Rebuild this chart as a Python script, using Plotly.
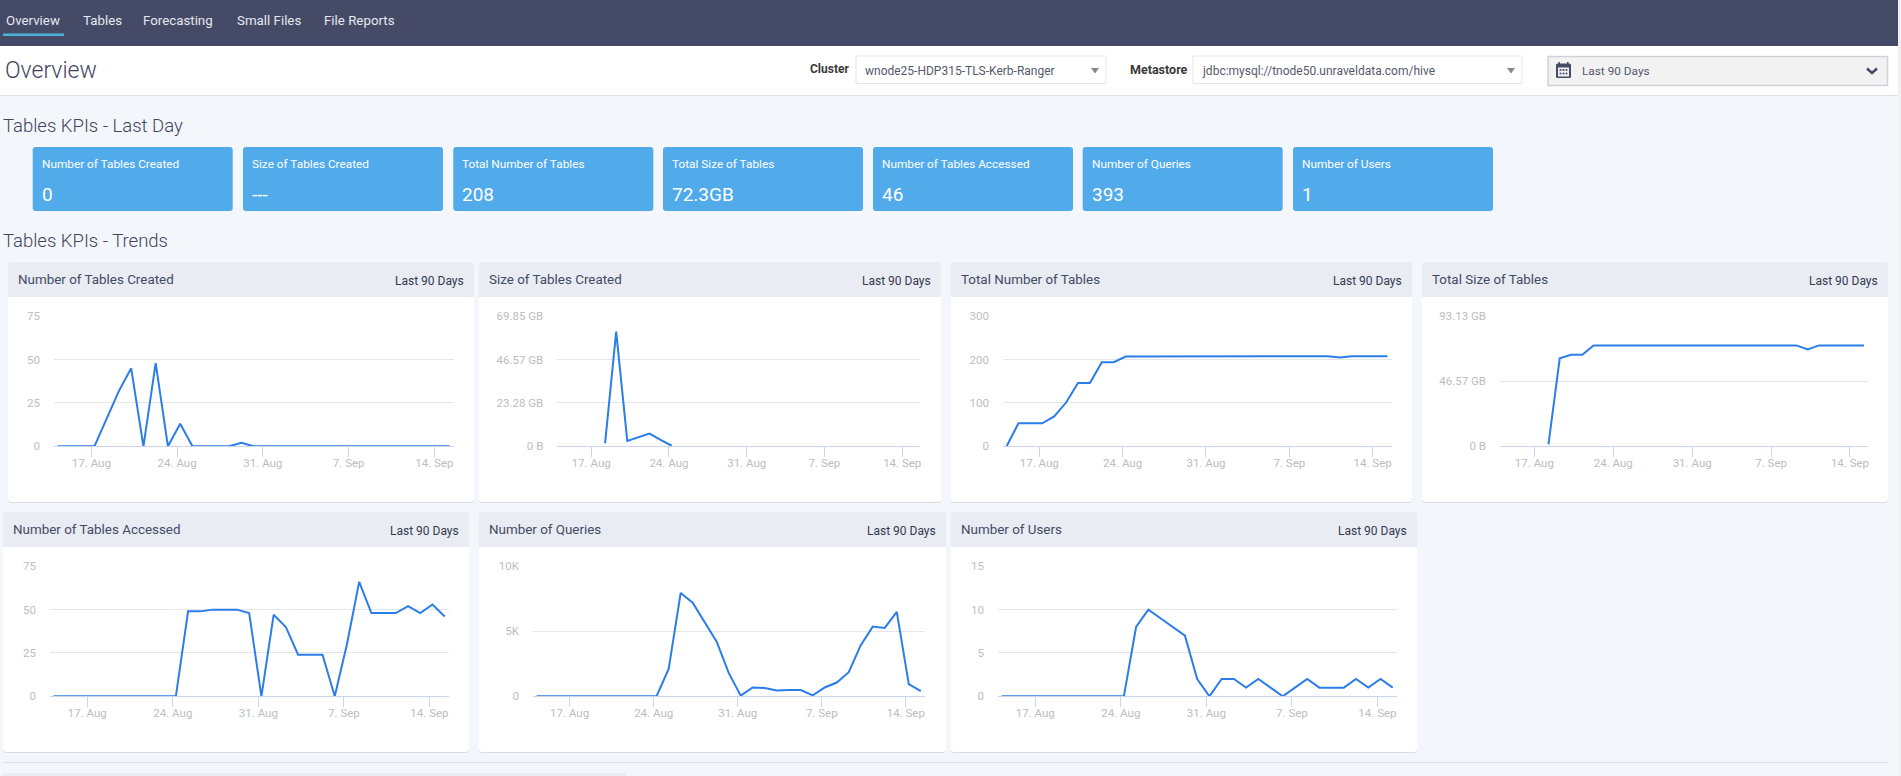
import pandas as pd
import plotly.graph_objects as go

W = 1901
H = 776

# one sample per day, shortly after midnight server time
days = pd.date_range("2020-08-14 06:00", "2020-09-15 06:00", freq="D")

tick_dates = ["2020-08-17", "2020-08-24", "2020-08-31", "2020-09-07", "2020-09-14"]
tick_labels = ["17. Aug", "24. Aug", "31. Aug", "7. Sep", "14. Sep"]

tables_created = [0, 0, 0, 0, 16, 32, 45, 0, 48, 0, 13, 0, 0, 0, 0, 2, 0, 0,
                  0, 0, 0, 0, 0, 0, 0, 0, 0, 0, 0, 0, 0, 0, 0]
size_created = [None, None, None, None, 1.6, 61.6, 2.9, 4.8, 6.8, 3.4, 0.3, None, None, None, None, None, None, None,
                None, None, None, None, None, None, None, None, None, None, None, None, None, None, None]
total_tables = [0, 53, 53, 53, 69, 101, 146, 146, 194, 194, 207, 207, 207, 207, 207, 208, 208, 208,
                208, 208, 208, 208, 208, 208, 208, 208, 208, 208, 205, 208, 208, 208, 208]
total_size = [None, None, None, None, 1.4, 63, 65.6, 65.6, 72.3, 72.3, 72.3, 72.3, 72.3, 72.3, 72.3, 72.3, 72.3, 72.3,
              72.3, 72.3, 72.3, 72.3, 72.3, 72.3, 72.3, 72.3, 72.3, 69.4, 72.3, 72.3, 72.3, 72.3, 72.3]
tables_accessed = [0, 0, 0, 0, 0, 0, 0, 0, 0, 0, 0, 49, 49, 50, 50, 50, 48, 0,
                   47, 40, 24, 24, 24, 0, 30, 66, 48, 48, 48, 52, 48, 53, 46]
queries = [0, 0, 0, 0, 0, 0, 0, 0, 0, 0, 30, 2100, 7950, 7200, 5750, 4200, 1800, 50,
           680, 640, 440, 490, 480, 70, 680, 1060, 1850, 3930, 5360, 5260, 6500, 940, 393]
users = [0, 0, 0, 0, 0, 0, 0, 0, 0, 0, 0, 8, 10, 9, 8, 7, 2, 0,
         2, 2, 1, 2, 1, 0, 1, 2, 1, 1, 1, 2, 1, 2, 1]

kpi_names = ["Number of Tables Created", "Size of Tables Created", "Total Number of Tables", "Total Size of Tables",
             "Number of Tables Accessed", "Number of Queries", "Number of Users"]
kpi_values = ["0", "---", "208", "72.3GB", "46", "393", "1"]
nav_items = ["Overview", "Tables", "Forecasting", "Small Files", "File Reports"]

FONT = "Roboto"
DARK = "#3f4560"
NAVY = "#454a66"
LINE = "#2b7de9"
HEADER = "#e9ecf3"

# card left/right, plot left/right, series, y ticks
panels = [
    ("Number of Tables Created", 8, 474, 54, 454, 0, tables_created, [0, 25, 50, 75], ["0", "25", "50", "75"]),
    ("Size of Tables Created", 479, 941, 557.3, 920, 0, size_created, [0, 23.28, 46.57, 69.85],
     ["0 B", "23.28 GB", "46.57 GB", "69.85 GB"]),
    ("Total Number of Tables", 951, 1412, 1003, 1391.7, 0, total_tables, [0, 100, 200, 300], ["0", "100", "200", "300"]),
    ("Total Size of Tables", 1422, 1888, 1500, 1868, 0, total_size, [0, 46.57, 93.13], ["0 B", "46.57 GB", "93.13 GB"]),
    ("Number of Tables Accessed", 3, 469, 50, 449, 1, tables_accessed, [0, 25, 50, 75], ["0", "25", "50", "75"]),
    ("Number of Queries", 479, 946, 533, 925, 1, queries, [0, 5000, 10000], ["0", "5K", "10K"]),
    ("Number of Users", 951, 1417, 998, 1397, 1, users, [0, 5, 10, 15], ["0", "5", "10", "15"]),
]
rows = [
    dict(top=262, head=297, grid=316.3, base=446.3, bottom=502),
    dict(top=512, head=547, grid=566.3, base=696.3, bottom=752),
]


def px(x):
    return x / W


def py(y):
    return 1 - y / H


def rect(x0, y0, x1, y1, color, border=None, bw=1):
    return dict(type="rect", xref="paper", yref="paper", x0=px(x0), x1=px(x1), y0=py(y1), y1=py(y0),
                fillcolor=color, line=dict(color=border or color, width=bw if border else 0), layer="below")


def path(points, color=None, line=None, bw=0, close=True):
    d = "M " + " L ".join(f"{px(x):.6f},{py(y):.6f}" for x, y in points)
    if close:
        d += " Z"
    return dict(type="path", xref="paper", yref="paper", path=d, fillcolor=color or "rgba(0,0,0,0)",
                line=dict(color=line or "rgba(0,0,0,0)", width=bw), layer="below")


def rounded(x0, y0, x1, y1, r, color, top=True, bottom=True):
    rt = r if top else 0
    rb = r if bottom else 0
    d = (f"M {px(x0 + rt)},{py(y0)} L {px(x1 - rt)},{py(y0)} Q {px(x1)},{py(y0)} {px(x1)},{py(y0 + rt)} "
         f"L {px(x1)},{py(y1 - rb)} Q {px(x1)},{py(y1)} {px(x1 - rb)},{py(y1)} "
         f"L {px(x0 + rb)},{py(y1)} Q {px(x0)},{py(y1)} {px(x0)},{py(y1 - rb)} "
         f"L {px(x0)},{py(y0 + rt)} Q {px(x0)},{py(y0)} {px(x0 + rt)},{py(y0)} Z")
    return dict(type="path", xref="paper", yref="paper", path=d, fillcolor=color, line=dict(width=0), layer="below")


def label(x, y, text, size, color=DARK, anchor="left", weight=400):
    return dict(x=px(x), y=py(y), xref="paper", yref="paper", text=text, showarrow=False, xanchor=anchor,
                yanchor="middle", align=anchor, borderpad=0, borderwidth=0,
                font=dict(family=FONT, size=size, color=color, weight=weight))


shapes = []
notes = []

# page chrome
shapes.append(rect(0, 0, 1898, 46, NAVY))
shapes.append(rect(1898, 0, W, H, "#f0f0f3"))
shapes.append(rect(0, 46, 1898, 95, "#ffffff"))
shapes.append(rect(0, 95, 1898, 96, "#dfe2ea"))
shapes.append(rect(3, 33.5, 64, 36, "#4db3d8"))
for name, x in zip(nav_items, [6, 82.5, 143, 237, 324]):
    notes.append(label(x, 20.7, name, 13.3, "#e6e8f0"))
notes.append(label(5, 70, "Overview", 23, DARK, weight=300))

notes.append(label(810, 69, "Cluster", 12, "#3a3a3a", weight=700))
shapes.append(rect(856, 56, 1106, 83.5, "#ffffff", "#e2e5ea"))
notes.append(label(865, 71, "wnode25-HDP315-TLS-Kerb-Ranger", 12, "#555a6a"))
shapes.append(path([(1091, 68), (1099, 68), (1095, 73.5)], "#888888"))
notes.append(label(1130, 69, "Metastore", 12.5, "#3a3a3a", weight=700))
shapes.append(rect(1193, 56, 1522, 83.5, "#ffffff", "#e2e5ea"))
notes.append(label(1201.5, 71, "jdbc:mysql://tnode50.unraveldata.com/hive", 12, "#555a6a"))
shapes.append(path([(1507, 68), (1515, 68), (1511, 73.5)], "#888888"))

shapes.append(rect(1548, 56.5, 1887.5, 85.5, "#f2f2f3", "#cfd2d8", 1.5))
shapes.append(rounded(1556, 63.5, 1571, 78, 1.5, NAVY))
shapes.append(rect(1558.5, 62, 1560, 65, NAVY))
shapes.append(rect(1567, 62, 1568.5, 65, NAVY))
shapes.append(rect(1558, 67.5, 1569, 76.5, "#f2f2f3"))
for cx in [1560.5, 1563.5, 1566.5]:
    for cy in [70, 73.5]:
        shapes.append(rect(cx - 0.9, cy - 0.9, cx + 0.9, cy + 0.9, NAVY))
notes.append(label(1582, 71, "Last 90 Days", 11.8, "#555a6a"))
shapes.append(path([(1867, 68.5), (1872, 73), (1877, 68.5)], None, NAVY, 2.5, close=False))

notes.append(label(3, 126.2, "Tables KPIs - Last Day", 18.5, DARK, weight=300))
notes.append(label(3, 240.5, "Tables KPIs - Trends", 18.5, DARK, weight=300))

# kpi tiles
kpi_left = [32.7, 243, 453.3, 663, 873, 1082.7, 1293]
for x, name, val in zip(kpi_left, kpi_names, kpi_values):
    shapes.append(rounded(x, 147, x + 200, 211, 3, "#51abeb"))
    notes.append(label(x + 8.8, 164, name, 11.8, "#ffffff"))
    notes.append(label(x + 8.8, 194, val, 19, "#ffffff"))

# bottom rule and cut-off next section
shapes.append(rect(3, 762, 1888, 763, "#dcdfe4"))
shapes.append(rect(3, 773, 626, 776, HEADER))

layout_axes = {}
fig = go.Figure()

for i, (title, card_l, card_r, plot_l, plot_r, row, vals, yt, yl) in enumerate(panels, start=1):
    r = rows[row]
    shapes.append(rounded(card_l, r["top"] + 1, card_r, r["bottom"] + 1, 3, "#d8dbe0"))
    shapes.append(rounded(card_l, r["top"], card_r, r["bottom"], 3, "#ffffff"))
    shapes.append(rounded(card_l, r["top"], card_r, r["head"], 3, HEADER, bottom=False))
    notes.append(label(card_l + 10.3, (r["top"] + r["head"]) / 2 - 0.3, title, 13.4, "#434a63"))
    notes.append(label(card_r - 10, (r["top"] + r["head"]) / 2 + 1, "Last 90 Days", 12, "#333a50", anchor="right"))

    fig.add_trace(go.Scatter(x=days, y=vals, mode="lines", line=dict(color=LINE, width=2), cliponaxis=False,
                             hoverinfo="skip", showlegend=False, connectgaps=False,
                             xaxis=f"x{i}", yaxis=f"y{i}"))
    layout_axes[f"xaxis{i}"] = dict(
        domain=[px(plot_l), px(plot_r)], anchor=f"y{i}",
        range=["2020-08-13 22:48", "2020-09-15 14:24"], type="date",
        tickmode="array", tickvals=tick_dates, ticktext=tick_labels,
        ticks="outside", ticklen=10, tickwidth=1, tickcolor="#ccd6eb", ticklabelstandoff=-4,
        showline=True, linecolor="#ccd6eb", linewidth=1, showgrid=False, zeroline=False,
        tickfont=dict(family=FONT, size=11.5, color="#bdbdbd"), fixedrange=True,
    )
    layout_axes[f"yaxis{i}"] = dict(
        domain=[py(r["base"]), py(r["grid"])], anchor=f"x{i}",
        range=[0, yt[-1]], tickmode="array", tickvals=yt, ticktext=yl,
        showgrid=True, gridcolor="#e6e6e6", gridwidth=1, zeroline=False, showline=False,
        ticks="", ticklabelstandoff=13,
        tickfont=dict(family=FONT, size=11.5, color="#bdbdbd"), fixedrange=True,
    )

fig.update_layout(
    width=W, height=H, margin=dict(l=0, r=0, t=0, b=0, pad=0, autoexpand=False), autosize=False,
    paper_bgcolor="#f3f6fa", plot_bgcolor="rgba(0,0,0,0)",
    shapes=shapes, annotations=notes, showlegend=False,
    **layout_axes,
)

fig.write_html("out.html", config={"displayModeBar": False},
               post_script="document.body.style.margin='0';")
